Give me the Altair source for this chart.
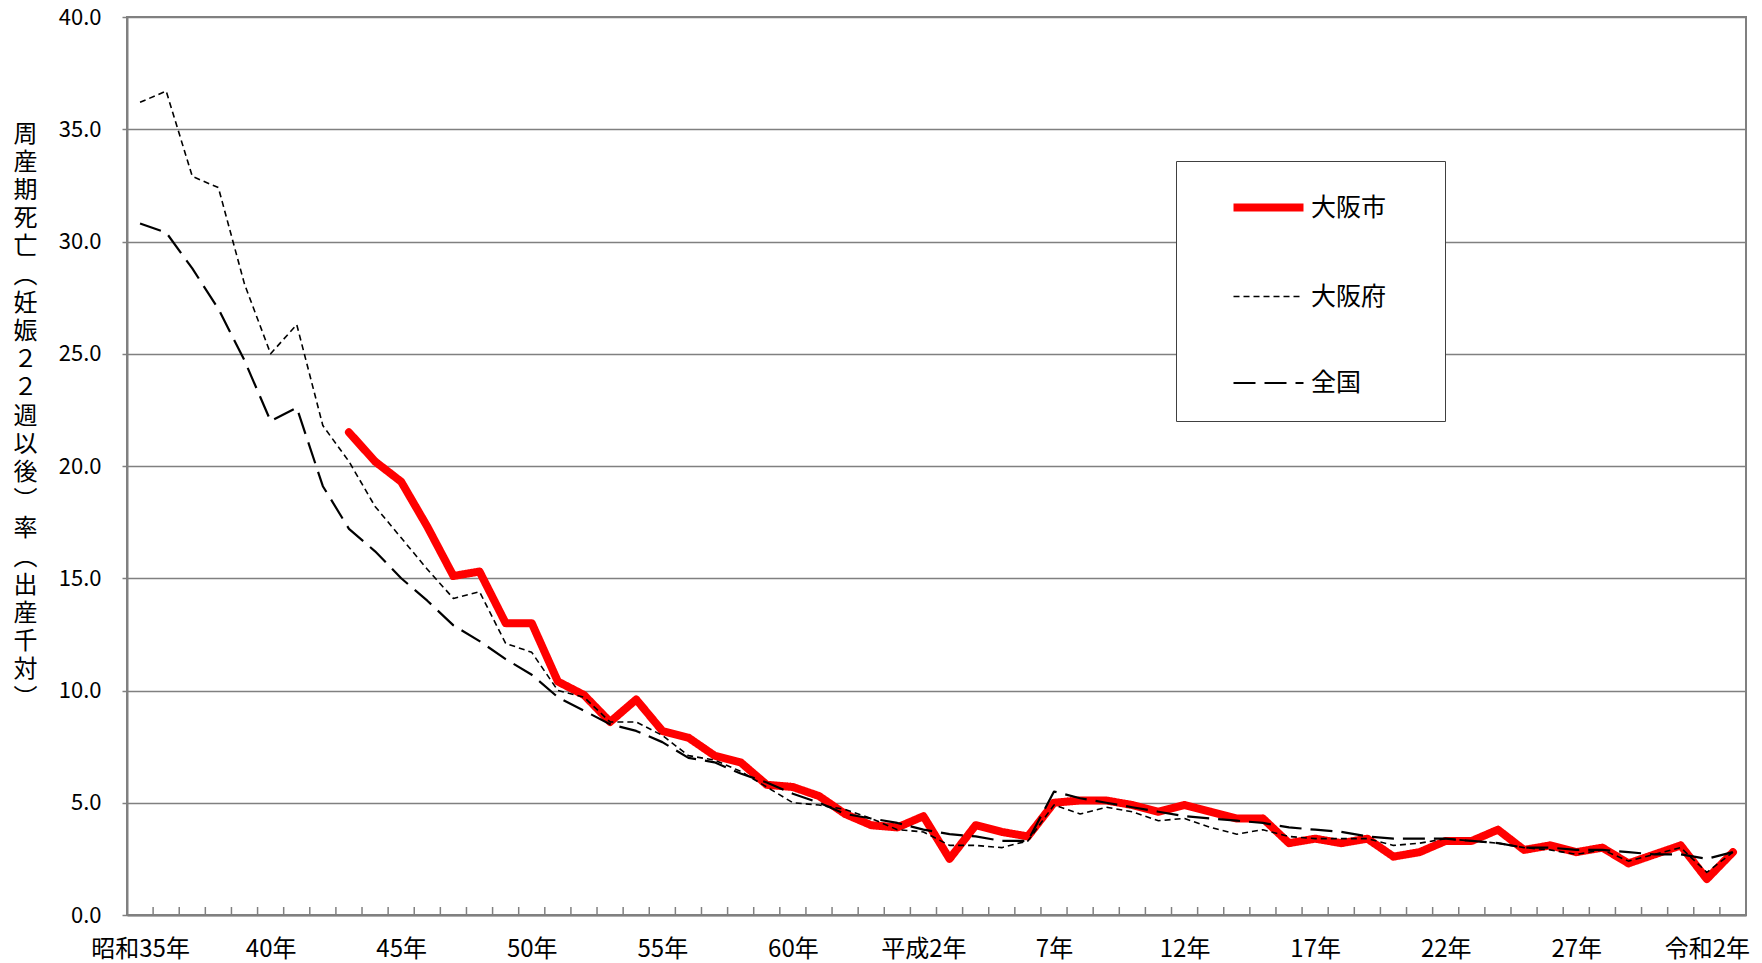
import altair as alt
import pandas as pd

# ---------------- data ----------------
years = list(range(1960, 2022))

osaka_city = [None, None, None, None, None, None, None, None,
              21.5, 20.2, 19.3, 17.3, 15.1, 15.3, 13.0, 13.0, 10.4, 9.8,
              8.6, 9.6, 8.2, 7.9, 7.1, 6.8, 5.8, 5.7, 5.3, 4.5,
              4.0, 3.9, 4.4, 2.5, 4.0, 3.7, 3.5, 5.0, 5.1, 5.1,
              4.9, 4.6, 4.9, 4.6, 4.3, 4.3, 3.2, 3.4, 3.2, 3.4,
              2.6, 2.8, 3.3, 3.3, 3.8, 2.9, 3.1, 2.8, 3.0, 2.3,
              2.7, 3.1, 1.6, 2.8]

osaka_pref = [36.2, 36.7, 32.9, 32.4, 28.1, 25.0, 26.3, 21.8,
              20.2, 18.2, 16.8, 15.4, 14.1, 14.4, 12.1, 11.7, 10.0, 9.7,
              8.6, 8.6, 8.0, 7.1, 6.9, 6.4, 5.7, 5.0, 4.9, 4.7,
              4.3, 3.8, 3.7, 3.1, 3.1, 3.0, 3.3, 4.9, 4.5, 4.8,
              4.6, 4.2, 4.3, 3.9, 3.6, 3.8, 3.5, 3.4, 3.4, 3.4,
              3.1, 3.2, 3.4, 3.3, 3.2, 3.0, 2.9, 2.7, 2.9, 2.4,
              2.7, 3.0, 1.9, 2.8]

national = [30.8, 30.4, 28.8, 27.0, 24.7, 22.0, 22.6, 19.1,
            17.2, 16.2, 15.0, 14.0, 12.9, 12.2, 11.4, 10.7, 9.7, 9.1,
            8.5, 8.2, 7.7, 7.0, 6.8, 6.3, 5.9, 5.4, 5.0, 4.5,
            4.3, 4.1, 3.8, 3.6, 3.5, 3.3, 3.3, 5.5, 5.2, 5.0,
            4.8, 4.6, 4.4, 4.3, 4.2, 4.1, 3.9, 3.8, 3.7, 3.5,
            3.4, 3.4, 3.4, 3.3, 3.2, 3.0, 3.0, 2.9, 2.9, 2.8,
            2.7, 2.7, 2.5, 2.8]

series_names = ["大阪市", "大阪府", "全国"]

tick_years = [1960, 1965, 1970, 1975, 1980, 1985, 1990, 1995,
              2000, 2005, 2010, 2015, 2020]
tick_labels = ["昭和35年", "40年", "45年", "50年", "55年", "60年", "平成2年",
               "7年", "12年", "17年", "22年", "27年", "令和2年"]

y_ticks = [0, 5, 10, 15, 20, 25, 30, 35, 40]

y_title = ["周", "産", "期", "死", "亡", "︵", "妊", "娠", "２", "２", "週",
           "以", "後", "︶", "率", "︵", "出", "産", "千", "対", "︶"]

# ---------------- tables ----------------
rows = []
for name, vals in zip(series_names, [osaka_city, osaka_pref, national]):
    for yr, v in zip(years, vals):
        if v is not None:
            rows.append({"年": yr, "系列": name, "率": v})
df = pd.DataFrame(rows)

bounds = pd.DataFrame({"年": [y - 0.5 for y in years] + [years[-1] + 0.5]})

# ---------------- style ----------------
FONT = "Noto Sans CJK JP"
W, H = 1619, 898
GRAY = "#808080"

x_scale = alt.Scale(domain=[years[0] - 0.5, years[-1] + 0.5], nice=False, zero=False)
y_scale = alt.Scale(domain=[0, 40], nice=False, zero=True)

label_arr = "[" + ",".join("'%s'" % s for s in tick_labels) + "]"
x_axis = alt.Axis(
    values=tick_years,
    labelExpr=f"{label_arr}[round((datum.value - {tick_years[0]}) / 5)]",
    title=None, ticks=False, tickSize=0, labelPadding=22,
    labelFontSize=24, labelFont=FONT, labelColor="black",
    labelFlush=False, labelOverlap=False, grid=False,
    domainColor=GRAY, domainWidth=2,
)
y_axis = alt.Axis(
    values=y_ticks, format=".1f",
    title=y_title, titleAngle=0, titleX=-102, titleY=105,
    titleBaseline="top", titleAlign="center",
    titleFontSize=24, titleFontWeight="normal", titleFont=FONT,
    titleColor="black", titleLineHeight=28.2,
    labelFontSize=22, labelFont=FONT, labelColor="black", labelPadding=21,
    tickSize=5, tickColor=GRAY, tickWidth=1.5,
    grid=True, gridColor=GRAY, gridWidth=1.5,
    domainColor=GRAY, domainWidth=2,
)

color_scale = alt.Scale(domain=series_names, range=["#FF0000", "#000000", "#000000"])
dash_scale = alt.Scale(domain=series_names, range=[[1, 0], [6, 4], [22, 9]])
width_scale = alt.Scale(type="ordinal", domain=series_names, range=[8, 1.6, 2.2])

legend = alt.Legend(
    title="口", titleOrient="right", titleFontSize=34, titlePadding=0,
    titleOpacity=0,
    orient="none", legendX=1049, legendY=144,
    padding=25, symbolOffset=46, symbolType="M-2,0H2", symbolSize=1225,
    labelFontSize=25, labelFont=FONT, labelColor="black", labelOffset=21,
    labelLimit=400, rowPadding=54,
    fillColor="white", strokeColor="#404040",
)


def line_layer(name, cap):
    return alt.Chart(df).transform_filter(
        alt.datum["系列"] == name
    ).mark_line(strokeCap=cap, strokeJoin="round").encode(
        x=alt.X("年:Q", scale=x_scale, axis=x_axis),
        y=alt.Y("率:Q", scale=y_scale, axis=y_axis),
        color=alt.Color("系列:N", scale=color_scale, legend=legend),
        strokeDash=alt.StrokeDash("系列:N", scale=dash_scale, legend=legend),
        strokeWidth=alt.StrokeWidth("系列:N", scale=width_scale, legend=legend),
    )


tick_layer = alt.Chart(bounds).mark_rule(color=GRAY, strokeWidth=1.5).encode(
    x=alt.X("年:Q", scale=x_scale, axis=x_axis),
    y=alt.value(H),
    y2=alt.value(H - 8),
)

chart = alt.layer(
    tick_layer,
    line_layer("大阪市", "round"),
    line_layer("大阪府", "butt"),
    line_layer("全国", "butt"),
).properties(
    width=W, height=H,
    padding={"left": 119, "top": 9, "right": 8, "bottom": 47},
    autosize=alt.AutoSizeParams(type="none"),
    background="white",
).configure_view(
    stroke=GRAY, strokeWidth=2,
)

chart.save("out.html", embed_options={"renderer": "svg", "actions": False})
